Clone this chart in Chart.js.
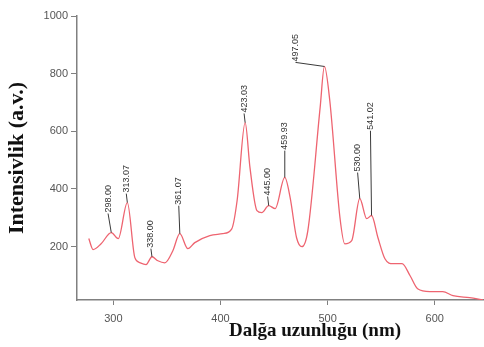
<!DOCTYPE html>
<html>
<head>
<meta charset="utf-8">
<script src="https://cdn.jsdelivr.net/npm/chart.js@4/dist/chart.umd.min.js"></script>
<style>
    html, body { margin: 0; padding: 0; background: #fff; }
    #wrap { width: 484px; height: 347px; position: relative; }
</style>
</head>
<body>
<div id="wrap"><canvas id="spectrum"></canvas></div>
<script>
/* ===============================
   DATA
================================ */
const wavelength = [277, 281, 288.5, 298, 304.5, 313, 320, 325, 330.5, 336, 341.5, 348, 355.5, 362, 369.5,
    376, 390, 402, 410.5, 415.5, 423, 427.5, 434, 438.5, 445, 451, 460, 465, 471, 476, 481.5, 493, 497,
    502, 511.5, 516, 522.5, 530, 536.5, 541, 547, 553.5, 561, 569.5, 577, 584, 595.5, 607.5, 617, 632.5, 645];
const intensity = [228, 190, 210, 249, 228, 353, 162, 144, 138, 165, 151, 144, 186, 245, 193,
    214, 238, 245, 262, 360, 630, 474, 325, 318, 342, 332, 440, 370, 231, 200, 255, 682, 825,
    707, 301, 210, 221, 367, 297, 308, 231, 158, 141, 141, 99, 54, 44, 44, 30, 23, 16];

// peak labels: text, peak position, where the label text starts
const peakText = ['298.00', '313.07', '338.00', '361.07', '423.03', '445.00', '459.93', '497.05', '530.00', '541.02'];
const peakNm = [298, 313, 336, 362, 423, 445, 460, 497, 530, 541];
const peakInt = [249, 353, 165, 245, 630, 342, 440, 825, 367, 308];
const labelNm = [295, 312, 335, 361, 422, 444, 460, 470, 528, 540];
const labelInt = [315, 384, 193, 342, 662, 374, 533, 839, 457, 602];

const xTicks = [300, 400, 500, 600];
const yTicks = [200, 400, 600, 800, 1000];

const axisColor = '#808080';

/* ===============================
   PEAK LABELS + TITLES
================================ */
const peakLabelPlugin = {
    id: 'peakLabels',
    afterDatasetsDraw(chart) {
        const { ctx, scales: { x, y } } = chart;
        ctx.save();
        ctx.strokeStyle = '#3a3a3a';
        ctx.lineWidth = 1;
        ctx.fillStyle = '#333';
        ctx.font = '9px "Liberation Sans", Arial, sans-serif';
        peakText.forEach((txt, i) => {
            const px = x.getPixelForValue(peakNm[i]);
            const py = y.getPixelForValue(peakInt[i]);
            const lx = x.getPixelForValue(labelNm[i]);
            const ly = y.getPixelForValue(labelInt[i]);
            ctx.beginPath();
            ctx.moveTo(px, py);
            ctx.lineTo(lx, ly);
            ctx.stroke();

            ctx.save();
            ctx.translate(lx, ly - 1);
            ctx.rotate(-Math.PI / 2);
            ctx.textAlign = 'left';
            ctx.textBaseline = 'middle';
            ctx.fillText(txt, 0, 0);
            ctx.restore();
        });
        ctx.restore();
    },
    afterDraw(chart) {
        const { ctx, chartArea } = chart;
        ctx.save();
        ctx.fillStyle = '#111';
        ctx.textAlign = 'center';
        ctx.textBaseline = 'middle';
        ctx.font = 'bold 19px "Liberation Serif", "Times New Roman", serif';
        ctx.fillText('Dalğa uzunluğu (nm)', 315, 331);

        ctx.font = 'bold 22px "Liberation Serif", "Times New Roman", serif';
        ctx.translate(17, (chartArea.top + chartArea.bottom) / 2);
        ctx.rotate(-Math.PI / 2);
        ctx.fillText('Intensivlik (a.v.)', 0, 0);
        ctx.restore();
    }
};

/* ===============================
   CHART
================================ */
const tickFont = { family: '"Liberation Sans", Arial, sans-serif', size: 11 };

new Chart(document.getElementById('spectrum'), {
    type: 'line',
    data: {
        datasets: [{
            data: wavelength.map((w, i) => ({ x: w, y: intensity[i] })),
            borderColor: 'rgb(238, 100, 112)',
            borderWidth: 1.3,
            pointRadius: 0,
            fill: false,
            cubicInterpolationMode: 'monotone'
        }]
    },
    options: {
        responsive: true,
        maintainAspectRatio: false,
        animation: false,
        layout: { padding: { top: 16, right: 0, left: 0, bottom: 0 } },
        plugins: {
            legend: { display: false },
            tooltip: { enabled: false }
        },
        scales: {
            x: {
                type: 'linear',
                min: 266,
                max: 646,
                afterFit: s => { s.height = 47; },
                afterBuildTicks: s => { s.ticks = xTicks.map(v => ({ value: v })); },
                ticks: { color: '#555', font: tickFont, padding: 7, maxRotation: 0, callback: v => String(v) },
                grid: { drawOnChartArea: false, drawTicks: true, tickLength: 5, color: axisColor },
                border: { display: true, color: axisColor, width: 1.5 }
            },
            y: {
                min: 15,
                max: 1000,
                afterFit: s => { s.width = 77; },
                afterBuildTicks: s => { s.ticks = yTicks.map(v => ({ value: v })); },
                ticks: { color: '#555', font: tickFont, padding: 3, callback: v => String(v) },
                grid: { drawOnChartArea: false, drawTicks: true, tickLength: 6, color: axisColor },
                border: { display: true, color: axisColor, width: 1.5 }
            }
        }
    },
    plugins: [peakLabelPlugin]
});
</script>
</body>
</html>
